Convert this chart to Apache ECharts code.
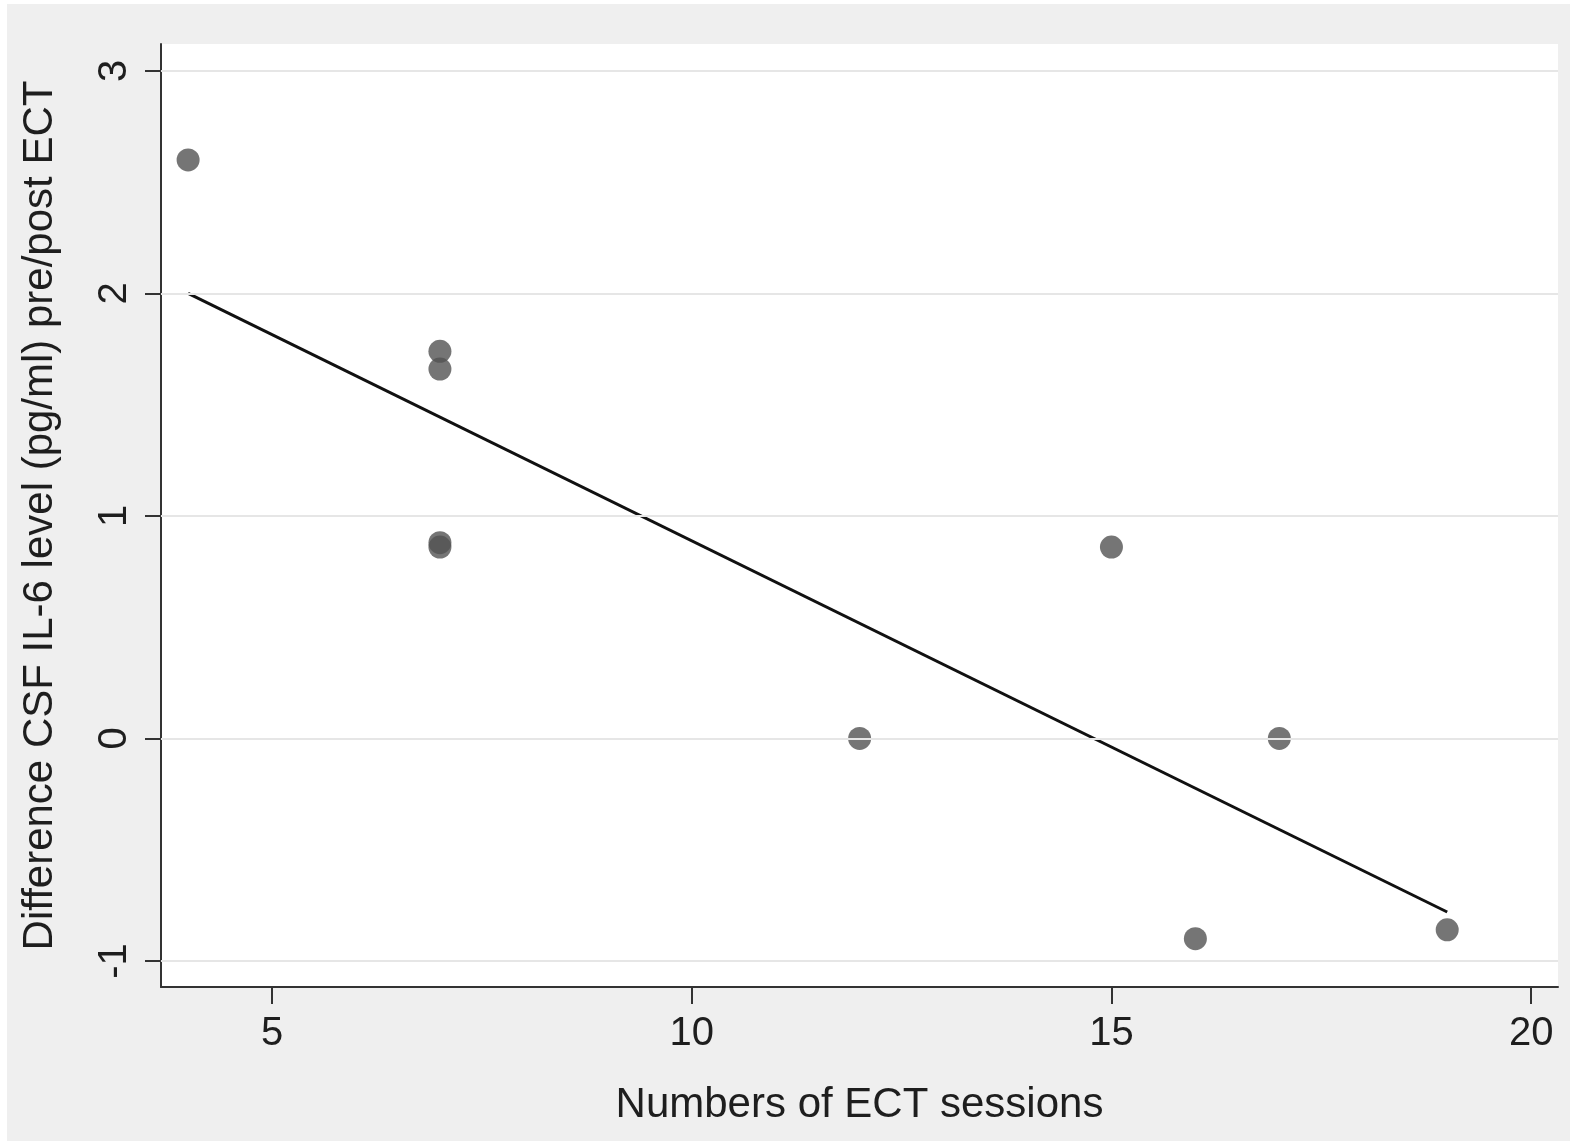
<!DOCTYPE html>
<html>
<head>
<meta charset="utf-8">
<script src="https://cdn.jsdelivr.net/npm/echarts@6/dist/echarts.min.js"></script>
<style>
  html, body { margin: 0; padding: 0; background: #ffffff; }
  #bg { position: absolute; left: 7px; top: 4px; width: 1563px; height: 1137px; background: #efefef; }
  #chart { position: absolute; left: 0; top: 0; width: 1570px; height: 1141px; }
</style>
</head>
<body>
<div id="bg"></div>
<div id="chart"></div>
<script>
// Number of ECT sessions per patient and change in CSF IL-6 (pre minus post)
const sessions = [4, 7, 7, 7, 7, 12, 15, 16, 17, 19];
const il6Diff  = [2.6, 1.74, 1.66, 0.88, 0.86, 0, 0.86, -0.9, 0, -0.86];

// Fitted linear trend, end points
const fitX = [4, 19];
const fitY = [2.0, -0.78];

// Tick labels
const xTicks = [5, 10, 15, 20];
const yTicks = [-1, 0, 1, 2, 3];

const FONT = '"Liberation Sans", Arial, Helvetica, sans-serif';
const TEXT = '#1e1e1e';
const AXIS = '#333333';

const chart = echarts.init(document.getElementById('chart'), null, { renderer: 'canvas' });

chart.setOption({
  backgroundColor: 'transparent',
  animation: false,
  grid: {
    left: 161, top: 44, width: 1397, height: 943,
    show: true, backgroundColor: '#ffffff', borderWidth: 0
  },
  xAxis: {
    type: 'value',
    min: 3.677, max: 20.32,
    name: 'Numbers of ECT sessions',
    nameLocation: 'middle',
    nameGap: 97,
    nameTextStyle: { fontFamily: FONT, fontSize: 42, color: TEXT },
    axisLine: { show: true, onZero: false, lineStyle: { color: AXIS, width: 2 } },
    axisTick: { show: true, length: 17, customValues: xTicks, lineStyle: { color: AXIS, width: 2 } },
    axisLabel: { customValues: xTicks, margin: 27, fontFamily: FONT, fontSize: 40, color: TEXT },
    splitLine: { show: false }
  },
  yAxis: {
    type: 'value',
    min: -1.117, max: 3.121,
    name: 'Difference CSF IL-6 level (pg/ml) pre/post ECT',
    nameLocation: 'middle',
    nameGap: 100,
    nameRotate: 90,
    nameTextStyle: { fontFamily: FONT, fontSize: 42, color: TEXT },
    axisLine: { show: true, onZero: false, lineStyle: { color: AXIS, width: 2 } },
    axisTick: { show: true, length: 16, customValues: yTicks, lineStyle: { color: AXIS, width: 2 } },
    axisLabel: { customValues: yTicks, rotate: 90, margin: 26, fontFamily: FONT, fontSize: 40, color: TEXT },
    splitLine: { show: false }
  },
  series: [
    {
      type: 'line',
      z: 2,
      data: fitX.map((x, i) => [x, fitY[i]]),
      showSymbol: false,
      symbol: 'none',
      lineStyle: { color: '#111111', width: 3 },
      silent: true,
      markLine: {
        silent: true,
        symbol: ['none', 'none'],
        label: { show: false },
        lineStyle: { color: '#e6e6e6', width: 2, type: 'solid' },
        data: yTicks.map(v => ({ yAxis: v }))
      }
    },
    {
      type: 'scatter',
      z: 3,
      data: sessions.map((x, i) => [x, il6Diff[i]]),
      symbol: 'circle',
      symbolSize: 23,
      itemStyle: { color: '#525252' }
    }
  ]
});
</script>
</body>
</html>
